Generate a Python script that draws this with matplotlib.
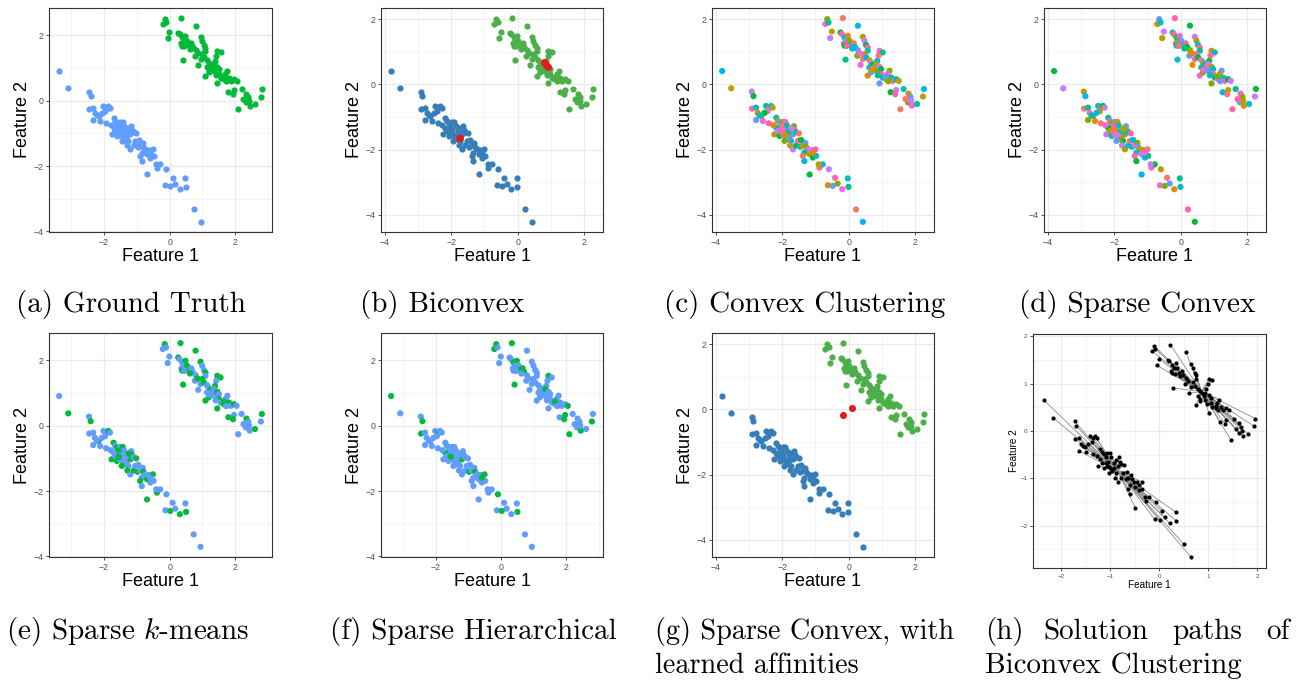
import numpy as np
import matplotlib
matplotlib.use("Agg")
import matplotlib.pyplot as plt

plt.rcParams['font.family'] = ['Liberation Sans', 'DejaVu Sans']
plt.rcParams['mathtext.fontset'] = 'cm'

# upper-right cluster, ground-truth coordinates (panel a)
top_x = [-0.15, -0.21, -0.11, 0.33, 0.79, -0.01, -0.06, 0.26, 0.30, 0.38,
         0.48, 0.43, 0.53, 0.36, 0.58, 0.66, 0.70, 0.94, 0.99, 1.04,
         1.09, 1.09, 0.99, 0.79, 0.77, 0.87, 0.41, 0.94, 1.04, 1.14,
         1.19, 1.24, 1.30, 1.14, 1.09, 1.19, 1.35, 1.45, 1.55, 1.42,
         1.38, 1.35, 1.45, 1.50, 1.50, 1.55, 1.65, 1.45, 1.76, 1.70,
         1.81, 1.86, 1.96, 2.04, 1.96, 1.79, 1.93, 2.19, 2.34, 2.40,
         2.32, 2.44, 2.60, 2.09, 2.81, 2.78, 2.42,
         0.38, 0.45, 0.62, 1.20, 1.65, 1.72, 0.85, 1.40, 2.25]
top_y = [2.50, 2.35, 2.40, 2.53, 2.30, 2.12, 1.92, 2.09, 2.04, 1.94,
         1.99, 1.84, 1.84, 1.76, 1.71, 1.76, 1.65, 1.96, 1.84, 1.71,
         1.63, 1.53, 1.43, 1.55, 1.38, 1.10, 1.26, 1.28, 1.33, 1.24,
         1.17, 1.10, 1.02, 1.02, 0.77, 0.87, 0.92, 1.53, 1.48, 1.38,
         1.22, 1.12, 1.04, 0.97, 0.82, 0.71, 0.66, 0.53, 0.92, 0.82,
         0.71, 0.61, 0.66, 0.61, 0.33, 0.26, 0.20, 0.36, 0.22, 0.12,
         -0.05, -0.15, -0.10, -0.26, 0.36, 0.13, 0.00,
         1.69, 1.68, 1.60, 0.95, 0.74, 0.60, 1.45, 0.78, 0.05]

# lower-left cluster
bot_x = [-3.37, -3.09, -2.46, -2.41, -2.45, -2.33, -2.28, -2.33, -2.17, -2.12,
         -2.02, -1.92, -1.87, -1.82, -1.97, -2.07, -1.94, -1.71, -1.66, -1.61,
         -1.51, -1.43, -1.39, -1.56, -1.71, -1.77, -1.66, -1.61, -1.51, -1.41,
         -1.31, -1.20, -1.17, -1.15, -1.10, -1.02, -1.26, -1.29, -1.20, -1.10,
         -1.05, -0.98, -0.90, -0.82, -0.80, -0.74, -0.85, -0.90, -0.85, -0.69,
         -0.64, -0.59, -0.51, -0.49, -0.59, -1.36, -1.46, -1.49, -1.33, -0.39,
         -0.29, -0.41, -0.10, -0.69, 0.09, 0.48, -0.13, 0.02, 0.17, 0.31,
         0.50, 0.73, 0.94,
         -1.45, -1.25, -0.95, -1.55, -2.22, -1.80]
bot_y = [0.91, 0.38, 0.28, 0.14, -0.24, -0.21, -0.37, -0.59, -0.47, -0.62,
         -0.16, -0.21, -0.16, -0.21, -0.32, -0.37, -0.69, -0.52, -0.62, -0.67,
         -0.65, -0.65, -0.76, -0.78, -0.83, -1.03, -0.93, -1.08, -1.03, -1.13,
         -1.08, -1.03, -0.78, -0.90, -0.96, -1.00, -1.23, -1.37, -1.49, -1.37,
         -1.23, -1.41, -1.37, -1.29, -1.41, -1.49, -1.59, -1.69, -1.85, -1.64,
         -1.51, -1.74, -1.49, -1.69, -1.59, -1.18, -1.23, -0.90, -0.93, -2.05,
         -1.95, -1.95, -2.10, -2.26, -2.36, -2.38, -2.59, -2.61, -2.54, -2.71,
         -2.64, -3.33, -3.71,
         -1.05, -0.85, -1.20, -0.95, -0.45, -0.75]

# standardised coordinates used by panels b, c, d, g
std_scale_x, std_shift = 0.98, -0.5
# coordinates used by the solution-path panel h
path_scale_x, path_scale_y = 0.70, 0.72

# points labelled "green" by sparse k-means (e) and sparse hierarchical (f)
e_green_top = [0, 3, 4, 7, 10, 12, 14, 17, 20, 22, 26, 28, 31, 34, 35, 37, 38,
               40, 42, 44, 46, 47, 50, 52, 55, 56, 58, 62, 64, 67, 69, 71, 73]
e_green_bot = [1, 3, 8, 12, 17, 19, 21, 23, 25, 27, 29, 31, 33, 35, 37, 39, 41,
               44, 47, 49, 52, 56, 59, 63, 67, 69, 70, 74, 76]
f_green_top = [0, 1, 3, 9, 10, 14, 15, 16, 26, 37, 41, 53, 54, 56, 61, 63, 65, 71]
f_green_bot = [0, 3, 4, 11, 24, 31, 41, 44, 52, 54, 62, 67, 70, 76]

# cluster centres found by the methods (already in standardised coords)
b_red_x = [0.80, 0.83, 0.86, 0.89, 0.92, -1.75, -1.73]
b_red_y = [0.68, 0.65, 0.61, 0.57, 0.54, -1.63, -1.65]
g_red_x = [-0.17, 0.09]
g_red_y = [-0.18, 0.05]

hue12 = ["#F8766D", "#DE8C00", "#B79F00", "#7CAE00", "#00BA38", "#00C08B",
         "#00BFC4", "#00B4F0", "#619CFF", "#C77CFF", "#F564E3", "#FF64B0"]

W, H = 1303, 683
fig = plt.figure(figsize=(W / 100, H / 100), dpi=100)

tx, ty = np.array(top_x), np.array(top_y)
bx, by = np.array(bot_x), np.array(bot_y)
nt, nb = len(tx), len(bx)


def add_ax(l, t, r, b):
    return fig.add_axes([l / W, 1 - b / H, (r - l) / W, (b - t) / H])


def style(ax, xs, ys, step, small=False):
    # ggplot theme_bw look, 5% expansion
    xr = xs.max() - xs.min()
    yr = ys.max() - ys.min()
    ax.set_xticks(np.arange(-6, 6, step))
    ax.set_yticks(np.arange(-6, 6, step))
    ax.set_xticks(np.arange(-6, 6, step) + step / 2, minor=True)
    ax.set_yticks(np.arange(-6, 6, step) + step / 2, minor=True)
    ax.set_xlim(xs.min() - 0.05 * xr, xs.max() + 0.05 * xr)
    ax.set_ylim(ys.min() - 0.05 * yr, ys.max() + 0.05 * yr)
    ax.grid(True, which='major', color='#EBEBEB', lw=0.9)
    ax.grid(True, which='minor', color='#F2F2F2', lw=0.6)
    ax.set_axisbelow(True)
    for sp in ax.spines.values():
        sp.set_color('#333333')
        sp.set_linewidth(0.8)
    fs_tick = 4.5 if small else 6.3
    fs_lab = 7.2 if small else 13
    ax.tick_params(which='major', length=2.5, width=0.6, color='#333333',
                   labelsize=fs_tick, labelcolor='#4D4D4D', pad=1.5)
    ax.tick_params(which='minor', length=0)
    ax.set_xlabel("Feature 1", fontsize=fs_lab, labelpad=1)
    ax.set_ylabel("Feature 2", fontsize=fs_lab, labelpad=1 if small else 2)


S = 20
# (a) ground truth
ax = add_ax(49, 8, 272, 232)
ax.scatter(tx, ty, s=S, c='#00BA38', lw=0)
ax.scatter(bx, by, s=S, c='#619CFF', lw=0)
style(ax, np.r_[tx, bx], np.r_[ty, by], 2)

sx_t, sy_t = tx * std_scale_x + std_shift, ty + std_shift
sx_b, sy_b = bx * std_scale_x + std_shift, by + std_shift
sx_all, sy_all = np.r_[sx_t, sx_b], np.r_[sy_t, sy_b]

# (b) biconvex
ax = add_ax(381, 8, 603, 232)
ax.scatter(sx_t, sy_t, s=S, c='#4DAF4A', lw=0)
ax.scatter(sx_b, sy_b, s=S, c='#377EB8', lw=0)
ax.scatter(b_red_x, b_red_y, s=S * 1.3, c='#E41A1C', lw=0)
style(ax, sx_all, sy_all, 2)

# (c) convex clustering, (d) sparse convex
for (l, r), k1, k2 in [((712, 934), 7, 3), ((1044, 1266), 5, 8)]:
    ax = add_ax(l, 8, r, 232)
    cols = [hue12[(i * k1 + k2) % 12] for i in range(nt + nb)]
    ax.scatter(sx_all, sy_all, s=S, c=cols, lw=0)
    style(ax, sx_all, sy_all, 2)

# (e) sparse k-means, (f) sparse hierarchical
for (l, r), gt, gb in [((49, 272), e_green_top, e_green_bot),
                       ((381, 603), f_green_top, f_green_bot)]:
    ax = add_ax(l, 333, r, 557)
    ct = ['#00BA38' if i in gt else '#619CFF' for i in range(nt)]
    cb = ['#00BA38' if i in gb else '#619CFF' for i in range(nb)]
    ax.scatter(np.r_[tx, bx], np.r_[ty, by], s=S, c=ct + cb, lw=0)
    style(ax, np.r_[tx, bx], np.r_[ty, by], 2)

# (g) sparse convex with learned affinities
ax = add_ax(712, 333, 934, 557)
ax.scatter(sx_t, sy_t, s=S, c='#4DAF4A', lw=0)
ax.scatter(sx_b, sy_b, s=S, c='#377EB8', lw=0)
ax.scatter(g_red_x, g_red_y, s=S * 1.3, c='#E41A1C', lw=0)
style(ax, sx_all, sy_all, 2)

# (h) solution paths
ax = add_ax(1033, 334, 1266, 568)
hx_t, hy_t = tx * path_scale_x, ty * path_scale_y
hx_b, hy_b = bx * path_scale_x, by * path_scale_y
for xs, ys in [(hx_t, hy_t), (hx_b, hy_b)]:
    cx, cy = xs.mean(), ys.mean()
    for x0, y0 in zip(xs, ys):
        ax.plot([x0, cx], [y0, cy], color='#8C8C8C', lw=0.6, zorder=2)
    ax.scatter(xs, ys, s=9, c='black', lw=0, zorder=3)
style(ax, np.r_[hx_t, hx_b], np.r_[hy_t, hy_b], 1, small=True)

# captions
cap = dict(fontfamily='cmr10', fontsize=21, color='black', va='center')
fig.text(131 / W, 1 - 305 / H, "(a) Ground Truth", ha='center', **cap)
fig.text(442 / W, 1 - 305 / H, "(b) Biconvex", ha='center', **cap)
fig.text(805 / W, 1 - 305 / H, "(c) Convex Clustering", ha='center', **cap)
fig.text(1137 / W, 1 - 305 / H, "(d) Sparse Convex", ha='center', **cap)
fig.text(128 / W, 1 - 632 / H, "(e) Sparse $k$-means", ha='center', **cap)
fig.text(473 / W, 1 - 632 / H, "(f) Sparse Hierarchical", ha='center', **cap)
cap_g = dict(cap, fontsize=20.3)
fig.text(655 / W, 1 - 632 / H, "(g) Sparse Convex, with", ha='left', **cap_g)
fig.text(655 / W, 1 - 666 / H, "learned affinities", ha='left', **cap_g)
fig.text(985 / W, 1 - 632 / H, "(h)", ha='left', **cap)
fig.text(1043 / W, 1 - 632 / H, "Solution", ha='left', **cap)
fig.text(1172 / W, 1 - 632 / H, "paths", ha='left', **cap)
fig.text(1290 / W, 1 - 632 / H, "of", ha='right', **cap)
fig.text(985 / W, 1 - 666 / H, "Biconvex Clustering", ha='left', **cap)

fig.savefig("out.png", dpi=100)
